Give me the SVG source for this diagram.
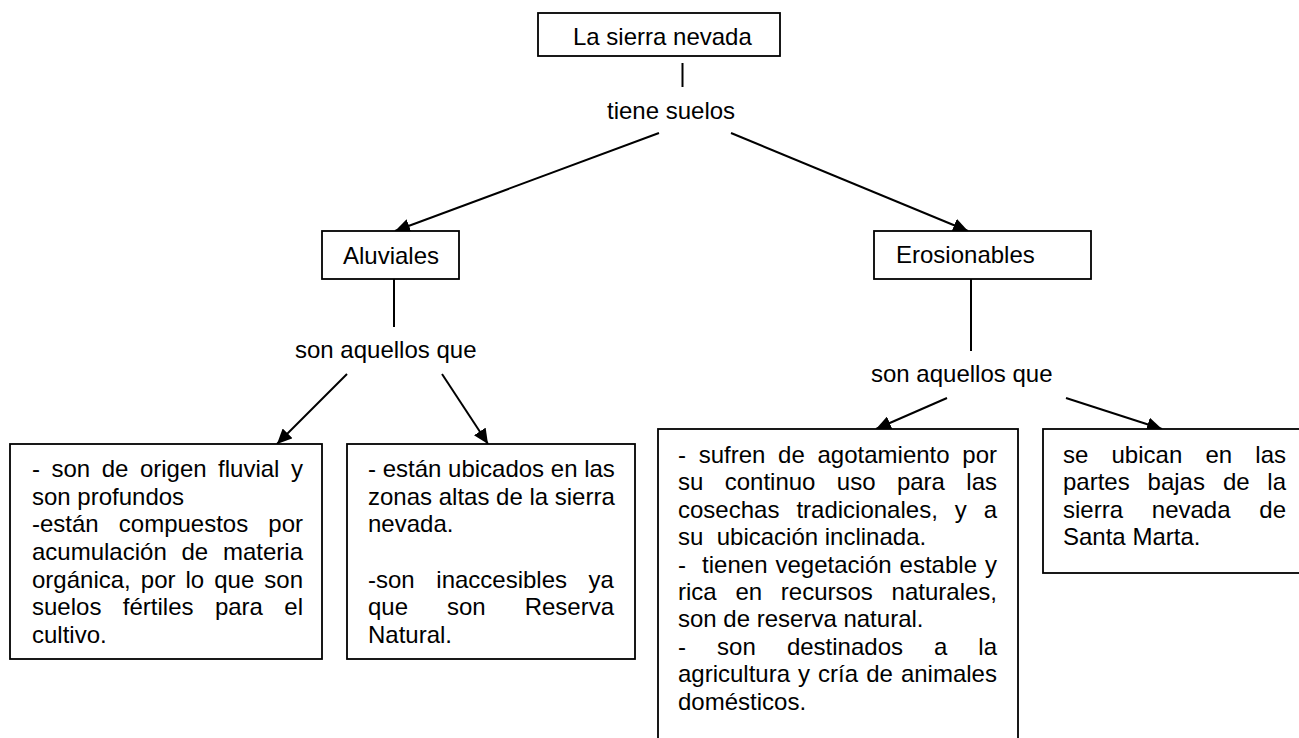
<svg xmlns="http://www.w3.org/2000/svg" width="1299" height="738" viewBox="0 0 1299 738">
<style>
text{font-family:"Liberation Sans",Arial,sans-serif;font-size:24px;fill:#000}
.box{fill:#fff;stroke:#000;stroke-width:1.8}
.con{stroke:#000;stroke-width:2;fill:none}
.arr{marker-end:url(#ah)}
</style>
<defs>
<marker id="ah" markerUnits="userSpaceOnUse" markerWidth="16" markerHeight="14" refX="15" refY="7" orient="auto">
<path d="M0,0 L15,7 L0,14 z" fill="#000"/>
</marker>
</defs>
<rect width="1299" height="738" fill="#fff"/>

<g id="connectors">
<line class="con" x1="682.5" y1="63" x2="682.5" y2="87"/>
<line class="con arr" x1="659" y1="133" x2="395" y2="231"/>
<line class="con arr" x1="731" y1="133" x2="968" y2="231"/>
<line class="con" x1="394" y1="279" x2="394" y2="327"/>
<line class="con" x1="971" y1="279" x2="971" y2="351"/>
<line class="con arr" x1="347" y1="374" x2="277" y2="444"/>
<line class="con arr" x1="442" y1="374" x2="488" y2="444"/>
<line class="con arr" x1="947" y1="398" x2="876" y2="429"/>
<line class="con arr" x1="1066" y1="398" x2="1162" y2="429"/>
</g>

<g id="n-sierra">
<rect class="box" x="538" y="13" width="242" height="43"/>
<text x="573" y="45">La sierra nevada</text>
</g>

<g id="l-tiene">
<text x="607" y="119">tiene suelos</text>
</g>

<g id="n-aluviales">
<rect class="box" x="322" y="231" width="137" height="48"/>
<text x="343" y="264">Aluviales</text>
</g>

<g id="n-erosionables">
<rect class="box" x="874" y="231" width="217" height="48"/>
<text x="896" y="263">Erosionables</text>
</g>

<g id="l-son1">
<text x="295" y="358">son aquellos que</text>
</g>

<g id="l-son2">
<text x="871" y="382">son aquellos que</text>
</g>

<g id="n-alu1">
<rect class="box" x="10" y="444" width="312" height="215"/>
<text y="477"><tspan x="32">-</tspan><tspan x="51.5">son</tspan><tspan x="101.7">de</tspan><tspan x="139.9">origen</tspan><tspan x="218.1">fluvial</tspan><tspan x="290.9">y</tspan></text>
<text x="32" y="505">son profundos</text>
<text y="532"><tspan x="32">-están</tspan><tspan x="118.8">compuestos</tspan><tspan x="268.3">por</tspan></text>
<text y="560"><tspan x="32">acumulación</tspan><tspan x="181.5">de</tspan><tspan x="223">materia</tspan></text>
<text y="588"><tspan x="32">orgánica,</tspan><tspan x="140.8">por</tspan><tspan x="185.5">lo</tspan><tspan x="214.2">que</tspan><tspan x="264.3">son</tspan></text>
<text y="615"><tspan x="32">suelos</tspan><tspan x="122.8">fértiles</tspan><tspan x="214.9">para</tspan><tspan x="284.3">el</tspan></text>
<text x="32" y="643">cultivo.</text>
</g>

<g id="n-alu2">
<rect class="box" x="347" y="444" width="288" height="215"/>
<text x="368" y="477">- están ubicados en las</text>
<text x="368" y="505">zonas altas de la sierra</text>
<text x="368" y="532">nevada.</text>
<text y="588"><tspan x="368">-son</tspan><tspan x="436.3">inaccesibles</tspan><tspan x="588.6">ya</tspan></text>
<text y="615"><tspan x="368">que</tspan><tspan x="447">son</tspan><tspan x="524.7">Reserva</tspan></text>
<text x="368" y="643">Natural.</text>
</g>

<g id="n-ero1">
<rect class="box" x="658" y="429" width="360" height="330"/>
<text y="463"><tspan x="678">-</tspan><tspan x="698.7">sufren</tspan><tspan x="778.1">de</tspan><tspan x="817.5">agotamiento</tspan><tspan x="962.3">por</tspan></text>
<text y="490.4"><tspan x="678">su</tspan><tspan x="724.7">continuo</tspan><tspan x="836.8">uso</tspan><tspan x="896.9">para</tspan><tspan x="966.3">las</tspan></text>
<text y="517.8"><tspan x="678">cosechas</tspan><tspan x="796.4">tradicionales,</tspan><tspan x="954.8">y</tspan><tspan x="983.7">a</tspan></text>
<text y="545.2"><tspan x="678">su</tspan><tspan x="716.7">ubicación inclinada.</tspan></text>
<text y="572.6"><tspan x="678">-</tspan><tspan x="702.1">tienen</tspan><tspan x="775.5">vegetación</tspan><tspan x="899.6">estable</tspan><tspan x="985">y</tspan></text>
<text y="600"><tspan x="678">rica</tspan><tspan x="735.4">en</tspan><tspan x="780.8">recursos</tspan><tspan x="891.6">naturales,</tspan></text>
<text x="678" y="627.4">son de reserva natural.</text>
<text y="654.8"><tspan x="678">-</tspan><tspan x="717.1">son</tspan><tspan x="786.9">destinados</tspan><tspan x="934.1">a</tspan><tspan x="978.3">la</tspan></text>
<text y="682.2"><tspan x="678">agricultura</tspan><tspan x="798.1">y</tspan><tspan x="818.1">cría</tspan><tspan x="866.2">de</tspan><tspan x="900.9">animales</tspan></text>
<text x="678" y="709.6">domésticos.</text>
</g>

<g id="n-ero2">
<rect class="box" x="1043" y="429" width="270" height="144"/>
<text y="463"><tspan x="1063">se</tspan><tspan x="1111.5">ubican</tspan><tspan x="1205.4">en</tspan><tspan x="1255.3">las</tspan></text>
<text y="490.4"><tspan x="1063">partes</tspan><tspan x="1147.6">bajas</tspan><tspan x="1222.9">de</tspan><tspan x="1267.3">la</tspan></text>
<text y="517.8"><tspan x="1063">sierra</tspan><tspan x="1151.8">nevada</tspan><tspan x="1259.3">de</tspan></text>
<text x="1063" y="545.2">Santa Marta.</text>
</g>
</svg>
